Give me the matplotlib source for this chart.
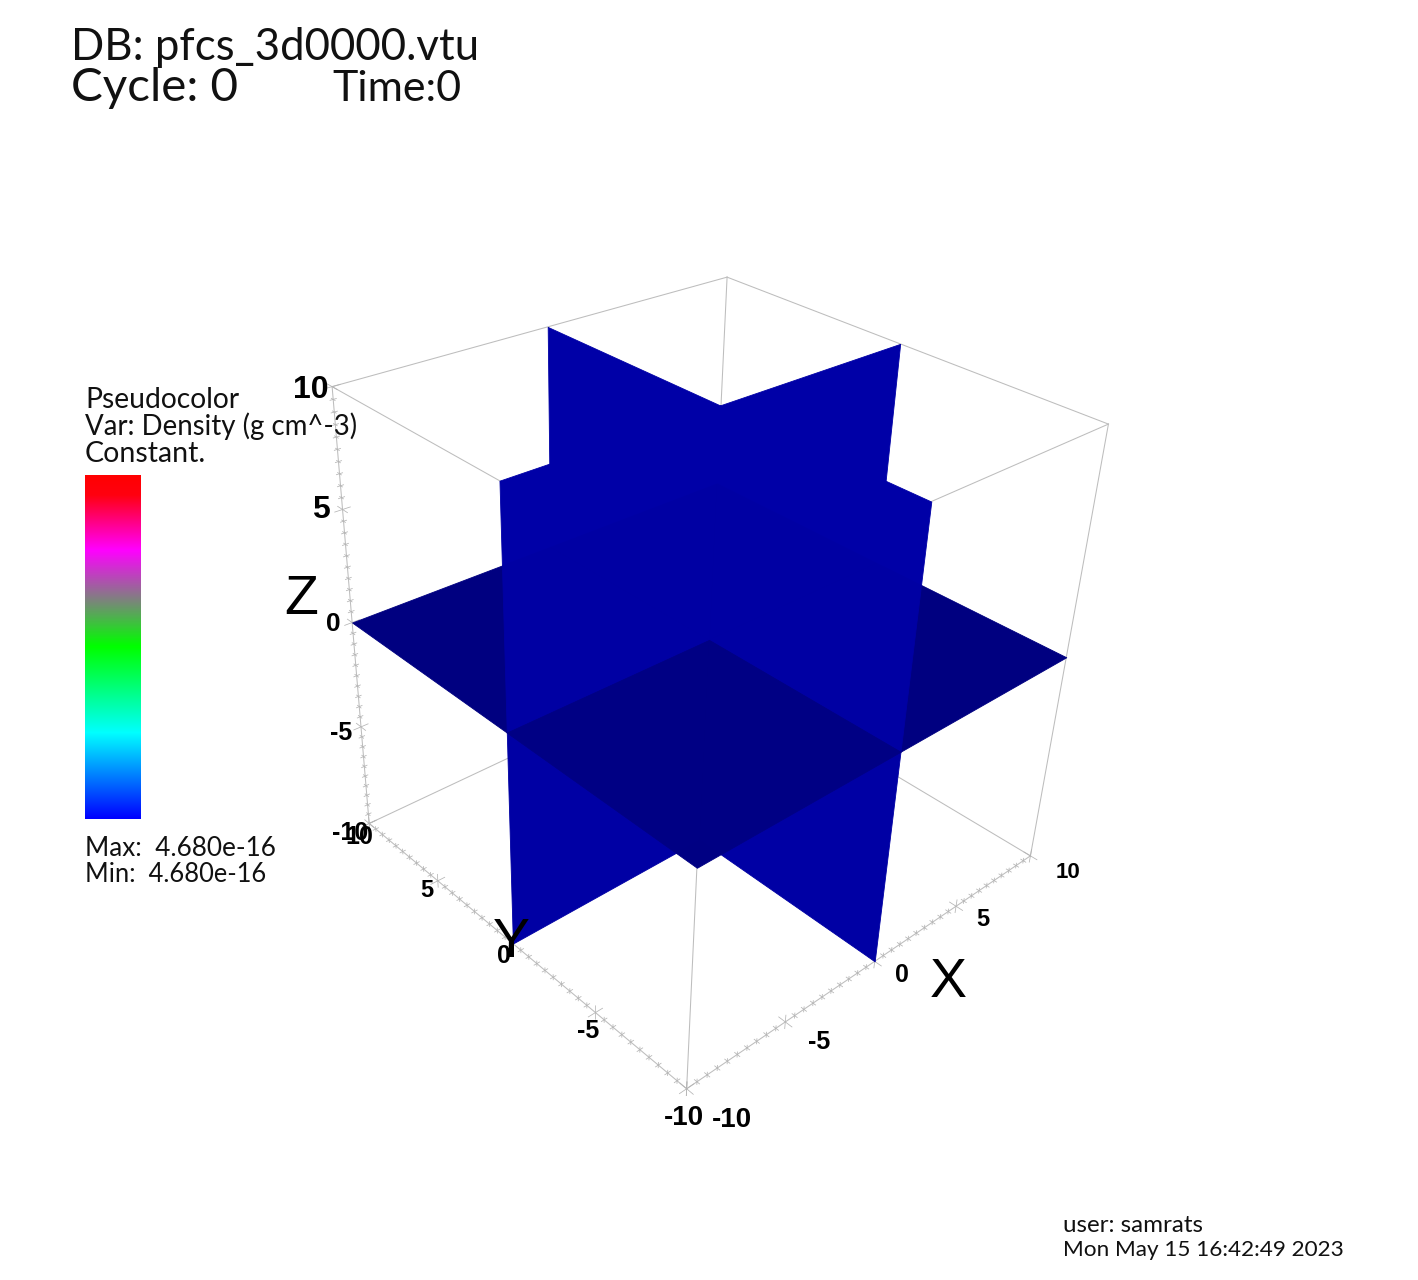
import numpy as np
import matplotlib
matplotlib.use("Agg")
import matplotlib.pyplot as plt
from matplotlib.colors import LinearSegmentedColormap
from mpl_toolkits.mplot3d import proj3d
from mpl_toolkits.mplot3d.art3d import Poly3DCollection, Line3DCollection

W, H = 1418, 1280

# ---- data ----
LO, MID, HI = -10.0, 0.0, 10.0
X_TICKS = [-10, -5, 0, 5, 10]
Y_TICKS = [10, 5, 0, -5, -10]
Z_TICKS = [10, 5, 0, -5, -10]
X_LABELS = ['-10', '-5', '0', '5', '10']
Y_LABELS = ['10', '5', '0', '-5', '-10']
Z_LABELS = ['10', '5', '0', '-5', '-10']
HEADER = ['DB: pfcs_3d0000.vtu', 'Cycle: 0', 'Time:0']
LEGEND_TOP = ['Pseudocolor', 'Var: Density (g cm^-3)', 'Constant.']
LEGEND_BOTTOM = ['Max:  4.680e-16', 'Min:  4.680e-16']
FOOTER = ['user: samrats', 'Mon May 15 16:42:49 2023']
CBAR_POS = [0.0, 0.25, 0.5, 0.637, 0.78, 0.94, 1.0]
CBAR_COL = ['#0000ff', '#00ffff', '#00ff00', '#808080', '#ff00ff', '#ff0010', '#ff0000']

# ---- style ----
SANS = ['Lato', 'DejaVu Sans']
ARIAL = ['Liberation Sans', 'DejaVu Sans']
UP = (0, 0, 167/255); LOW = (0, 0, 164/255); FLAT = (0, 0, 128/255); NEAR = (0, 0, 131/255)
GREY = '#bdbdbd'; TICKC = '#b4b4b4'

fig = plt.figure(figsize=(W/100, H/100), dpi=100, facecolor='white')
ax = fig.add_axes([0, 0, 1, 1], projection='3d', computed_zorder=False)
ax.view_init(elev=31.3012, azim=-134.8165, roll=-2.6894)
ax.set_proj_type('persp', focal_length=0.3571)
ax.set_box_aspect((1, 1, 1))
ax.set_xlim(LO, HI); ax.set_ylim(LO, HI); ax.set_zlim(LO, HI)
ax.set_axis_off()
ax.patch.set_visible(False)

# Place the square axes so that its projected coordinates land on the wanted scale.
SCALE, OX, OY = 4595.217, 709.004, 640.111
ax.apply_aspect()
p0, p1 = ax.transData.transform([[0, 0], [1, 1]])
side0 = ax.get_position().width * W
side = side0 * SCALE / (p1[0] - p0[0])
fx = (p0[0] - ax.get_position().x0 * W) / side0
fy = (p0[1] - ax.get_position().y0 * H) / side0
ax.set_position([(OX - fx * side) / W, (OY - fy * side) / H, side / W, side / H])

# ---- bounding box ----
c = [LO, HI]
def edge(a, b):
    ax.plot(*zip(a, b), color=GREY, lw=0.75, zorder=1, clip_on=False)
for u in c:
    for v in c:
        edge((LO, u, v), (HI, u, v))
        edge((u, LO, v), (u, HI, v))
        edge((u, v, LO), (u, v, HI))

# ---- ticks ----
segs = []
for t in np.arange(LO, HI + 0.01, 0.5):
    r = 0.36 if t % 5 == 0 else 0.15
    segs += [[(t, LO - r, LO), (t, LO + r, LO)], [(t, LO, LO - r), (t, LO, LO + r)]]
    segs += [[(LO - r, t, LO), (LO + r, t, LO)], [(LO, t, LO - r), (LO, t, LO + r)]]
    segs += [[(LO - r, HI, t), (LO + r, HI, t)], [(LO, HI - r, t), (LO, HI + r, t)]]
ax.add_collection3d(Line3DCollection(segs, colors=TICKC, linewidths=0.55, zorder=2, clip_on=False), autolim=False)

# ---- three slice planes, split in quadrants and painted from far to near ----
def quad(pts, col, alpha, z):
    rgba = col + (alpha,)
    solid = alpha >= 1
    poly = Poly3DCollection([pts], facecolors=[rgba], edgecolors=[rgba] if solid else 'none',
                            linewidths=0.6 if solid else 0, zorder=z, clip_on=False)
    ax.add_collection3d(poly, autolim=False)

def vertical(sign_x, sign_y, z0, z1, col, alpha, z):
    # sign_x != 0 : piece of y=0 towards x; sign_y != 0 : piece of x=0 towards y
    if sign_x:
        e = MID + sign_x * HI
        quad([(MID, MID, z0), (e, MID, z0), (e, MID, z1), (MID, MID, z1)], col, alpha, z)
    else:
        e = MID + sign_y * HI
        quad([(MID, MID, z0), (MID, e, z0), (MID, e, z1), (MID, MID, z1)], col, alpha, z)

def flat(a, b, col, alpha, z):
    quad([(MID, MID, MID), (a, MID, MID), (a, b, MID), (MID, b, MID)], col, alpha, z)

vertical(0, 1, LO, MID, LOW, 1.0, 10)
vertical(1, 0, LO, MID, LOW, 1.0, 11)
vertical(0, -1, LO, MID, LOW, 1.0, 12)
vertical(-1, 0, LO, MID, LOW, 1.0, 13)
for i, (a, b) in enumerate([(HI, HI), (LO, HI), (HI, LO)]):
    flat(a, b, FLAT, 1.0, 20 + i)
vertical(0, 1, MID, HI, UP, 1.0, 30)
vertical(1, 0, MID, HI, UP, 1.0, 31)
vertical(0, -1, MID, HI, UP, 1.0, 32)
vertical(-1, 0, MID, HI, UP, 1.0, 33)
# far quadrants glimpsed faintly through the upper walls
for i, (a, b) in enumerate([(HI, HI), (LO, HI), (HI, LO)]):
    flat(a, b, FLAT, 0.10, 34 + i)
flat(LO, LO, NEAR, 1.0, 38)
# lower walls glimpsed faintly through the near quadrant
vertical(0, -1, LO, MID, LOW, 0.04, 39)
vertical(-1, 0, LO, MID, LOW, 0.04, 40)

# ---- labels anchored to projected axis positions ----
M = ax.get_proj()
def label(x, y, z, s, dx, dy, size, weight='bold'):
    xp, yp, _ = proj3d.proj_transform(np.array([x]), np.array([y]), np.array([z]), M)
    ax.annotate(s, xy=(xp[0], yp[0]), xycoords='data', xytext=(dx, -dy), textcoords='offset pixels',
                ha='center', va='center', fontsize=size, fontweight=weight, family=ARIAL,
                color='black', annotation_clip=False, zorder=50)

Z_OFF = [(-21, 3), (-22, 1), (-19, 1), (-20, 6), (-19, 10)]
Z_SIZE = [23, 23, 19, 18, 18]
for t, s, (dx, dy), fs in zip(Z_TICKS, Z_LABELS, Z_OFF, Z_SIZE):
    label(LO, HI, t, s, dx, dy, fs)
Y_OFF = [(-10, 14), (-11, 10), (-9, 12), (-7, 18), (-3, 29)]
Y_SIZE = [18, 17, 18, 18, 20]
for t, s, (dx, dy), fs in zip(Y_TICKS, Y_LABELS, Y_OFF, Y_SIZE):
    label(LO, t, LO, s, dx, dy, fs)
X_OFF = [(45, 31), (34, 20), (27, 14), (27, 13), (38, 17)]
X_SIZE = [20, 18, 18, 17, 16]
for t, s, (dx, dy), fs in zip(X_TICKS, X_LABELS, X_OFF, X_SIZE):
    label(t, LO, LO, s, dx, dy, fs)
label(MID, LO, LO, 'X', 74, 22, 40, 'normal')
label(LO, MID, LO, 'Y', -2, -1, 40, 'normal')
label(LO, HI, MID, 'Z', -51, -23, 40, 'normal')

# ---- colour bar ----
cax = fig.add_axes([85 / W, 1 - 819 / H, 56 / W, 344 / H])
cmap = LinearSegmentedColormap.from_list('visit', list(zip(CBAR_POS, CBAR_COL)), N=344)
cax.imshow(np.linspace(1, 0, 344)[:, None], cmap=cmap, aspect='auto', vmin=0, vmax=1, interpolation='nearest')
cax.set_axis_off()

# ---- annotations ----
def note(x, y, s, size):
    fig.text(x / W, 1 - y / H, s, fontsize=size, family=SANS, fontweight='normal',
             va='baseline', ha='left', color='#111111')

note(71, 60, HEADER[0], 31.5)
note(71, 101, HEADER[1], 34.2)
note(332, 101, HEADER[2], 31)
for y, s, fs in zip((408.5, 435.5, 462.5), LEGEND_TOP, (20.3, 19.9, 20.5)):
    note(85, y, s, fs)
for y, s, fs in zip((855.5, 882.5), LEGEND_BOTTOM, (18.8, 18.4)):
    note(85, y, s, fs)
for y, s, fs in zip((1232, 1256), FOOTER, (17.4, 16.2)):
    note(1063, y, s, fs)

fig.savefig('out.png', dpi=100, facecolor='white')
